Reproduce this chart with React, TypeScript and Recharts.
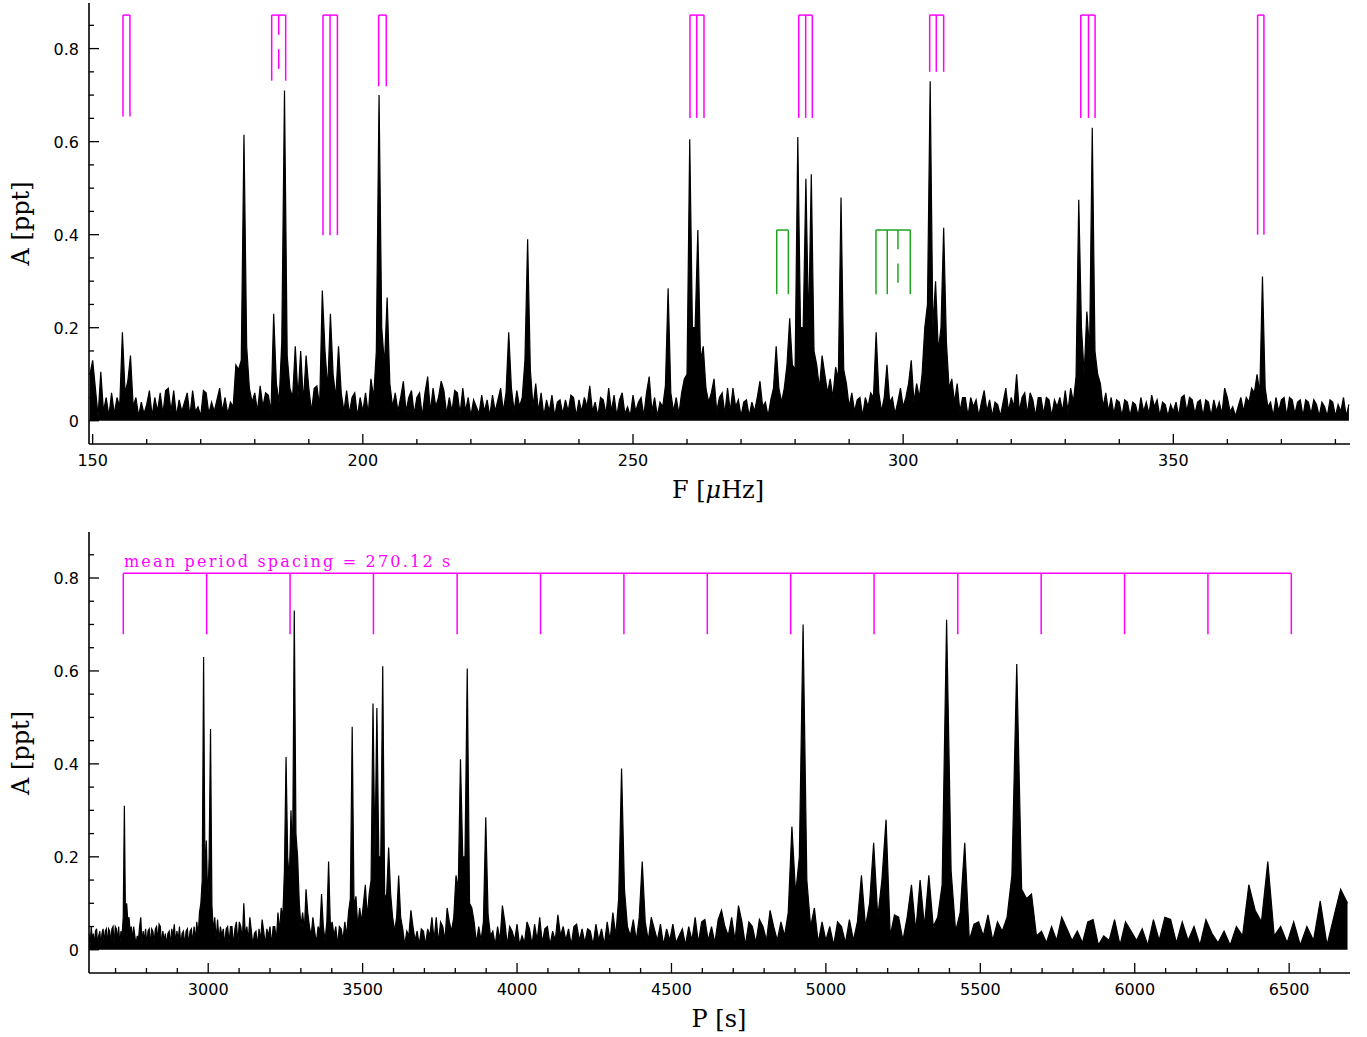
import { ComposedChart, Area, XAxis, YAxis, ReferenceLine } from 'recharts';

// amplitude spectrum, sampled every 0.5 µHz starting at 149.5 µHz (ppt)
const F_START = 149.5;
const F_STEP = 0.5;
const amplitudes = [
  0.10,
  // 150.0
  0.13, 0.07, 0.01, 0.105, 0.02, 0.05, 0.01, 0.06, 0.015, 0.05,
  0.03, 0.19, 0.06, 0.085, 0.14, 0.03, 0.05, 0.01, 0.04, 0.015,
  // 160.0
  0.035, 0.065, 0.01, 0.05, 0.02, 0.06, 0.015, 0.065, 0.07, 0.02,
  0.065, 0.01, 0.045, 0.02, 0.04, 0.06, 0.01, 0.065, 0.02, 0.03,
  // 170.0
  0.01, 0.065, 0.06, 0.015, 0.04, 0.02, 0.045, 0.07, 0.02, 0.05,
  0.015, 0.04, 0.03, 0.12, 0.11, 0.13, 0.615, 0.16, 0.07, 0.04,
  // 180.0
  0.06, 0.02, 0.075, 0.03, 0.06, 0.055, 0.02, 0.23, 0.08, 0.04,
  0.17, 0.71, 0.14, 0.07, 0.05, 0.16, 0.05, 0.15, 0.04, 0.14,
  // 190.0
  0.07, 0.02, 0.07, 0.075, 0.03, 0.28, 0.15, 0.07, 0.23, 0.1,
  0.05, 0.16, 0.06, 0.02, 0.065, 0.015, 0.05, 0.06, 0.01, 0.05,
  // 200.0
  0.02, 0.06, 0.015, 0.09, 0.05, 0.15, 0.70, 0.2, 0.12, 0.265,
  0.08, 0.03, 0.06, 0.02, 0.05, 0.085, 0.02, 0.05, 0.065, 0.015,
  // 210.0
  0.05, 0.06, 0.01, 0.06, 0.095, 0.02, 0.07, 0.03, 0.05, 0.085,
  0.065, 0.015, 0.05, 0.02, 0.065, 0.06, 0.015, 0.07, 0.02, 0.05,
  // 220.0
  0.01, 0.045, 0.03, 0.015, 0.055, 0.02, 0.045, 0.01, 0.055, 0.02,
  0.045, 0.07, 0.02, 0.06, 0.19, 0.07, 0.02, 0.065, 0.03, 0.05,
  // 230.0
  0.13, 0.39, 0.11, 0.03, 0.08, 0.02, 0.06, 0.01, 0.045, 0.02,
  0.055, 0.01, 0.04, 0.045, 0.015, 0.045, 0.02, 0.055, 0.05, 0.01,
  // 240.0
  0.045, 0.02, 0.05, 0.03, 0.075, 0.02, 0.04, 0.01, 0.05, 0.045,
  0.015, 0.07, 0.02, 0.055, 0.01, 0.045, 0.06, 0.015, 0.03, 0.01,
  // 250.0
  0.055, 0.02, 0.04, 0.05, 0.01, 0.06, 0.095, 0.02, 0.05, 0.01,
  0.04, 0.03, 0.075, 0.285, 0.06, 0.02, 0.05, 0.015, 0.06, 0.09,
  // 260.0
  0.1, 0.605, 0.2, 0.2, 0.41, 0.13, 0.16, 0.07, 0.04, 0.06,
  0.09, 0.02, 0.05, 0.06, 0.015, 0.07, 0.02, 0.07, 0.03, 0.045,
  // 270.0
  0.01, 0.04, 0.045, 0.01, 0.04, 0.02, 0.05, 0.085, 0.03, 0.04,
  0.01, 0.045, 0.07, 0.16, 0.07, 0.04, 0.07, 0.12, 0.22, 0.12,
  // 280.0
  0.11, 0.61, 0.2, 0.2, 0.52, 0.2, 0.53, 0.15, 0.12, 0.07,
  0.14, 0.1, 0.06, 0.09, 0.05, 0.115, 0.09, 0.48, 0.11, 0.08,
  // 290.0
  0.03, 0.06, 0.02, 0.045, 0.05, 0.01, 0.05, 0.03, 0.06, 0.05,
  0.19, 0.06, 0.02, 0.05, 0.12, 0.04, 0.05, 0.015, 0.04, 0.07,
  // 300.0
  0.03, 0.05, 0.08, 0.13, 0.04, 0.08, 0.05, 0.1, 0.2, 0.25,
  0.73, 0.2, 0.3, 0.15, 0.2, 0.415, 0.17, 0.07, 0.09, 0.04,
  // 310.0
  0.08, 0.02, 0.05, 0.05, 0.01, 0.05, 0.03, 0.045, 0.01, 0.04,
  0.065, 0.02, 0.045, 0.01, 0.04, 0.035, 0.01, 0.04, 0.07, 0.02,
  // 320.0
  0.05, 0.03, 0.1, 0.02, 0.05, 0.06, 0.015, 0.06, 0.045, 0.01,
  0.05, 0.05, 0.015, 0.05, 0.045, 0.01, 0.045, 0.03, 0.05, 0.02,
  // 330.0
  0.065, 0.02, 0.07, 0.04, 0.095, 0.475, 0.2, 0.1, 0.235, 0.15,
  0.63, 0.15, 0.1, 0.08, 0.03, 0.06, 0.02, 0.05, 0.015, 0.045,
  // 340.0
  0.04, 0.01, 0.045, 0.04, 0.01, 0.04, 0.035, 0.01, 0.05, 0.02,
  0.04, 0.015, 0.055, 0.03, 0.045, 0.01, 0.04, 0.035, 0.01, 0.035,
  // 350.0
  0.02, 0.04, 0.01, 0.05, 0.055, 0.02, 0.05, 0.045, 0.015, 0.04,
  0.045, 0.01, 0.045, 0.04, 0.01, 0.045, 0.02, 0.04, 0.015, 0.07,
  // 360.0
  0.05, 0.02, 0.03, 0.01, 0.03, 0.05, 0.02, 0.05, 0.04, 0.07,
  0.06, 0.1, 0.06, 0.31, 0.07, 0.03, 0.04, 0.01, 0.05, 0.02,
  // 370.0
  0.045, 0.05, 0.01, 0.05, 0.045, 0.015, 0.04, 0.045, 0.01, 0.045,
  0.04, 0.015, 0.045, 0.035, 0.01, 0.04, 0.03, 0.01, 0.045, 0.04,
  // 380.0
  0.01, 0.035, 0.02, 0.05, 0.01, 0.035,
];

const freqTicks = [150, 160, 170, 180, 190, 200, 210, 220, 230, 240, 250, 260, 270, 280, 290, 300, 310, 320, 330, 340, 350, 360, 370, 380];
const periodTicks = [2700, 2800, 2900, 3000, 3100, 3200, 3300, 3400, 3500, 3600, 3700, 3800, 3900, 4000, 4100, 4200, 4300, 4400, 4500, 4600, 4700, 4800, 4900, 5000, 5100, 5200, 5300, 5400, 5500, 5600, 5700, 5800, 5900, 6000, 6100, 6200, 6300, 6400, 6500, 6600];
const ampTicks = [0, 0.05, 0.1, 0.15, 0.2, 0.25, 0.3, 0.35, 0.4, 0.45, 0.5, 0.55, 0.6, 0.65, 0.7, 0.75, 0.8, 0.85];

// rotational multiplets (µHz), magenta l=1, green l=2
const PINK_TOP = 0.872;
const pinkMultiplets = [
  { freqs: [155.61, 156.9], bottom: 0.654, broken: -1 },
  { freqs: [183.13, 184.43, 185.72], bottom: 0.731, broken: 1 },
  { freqs: [192.63, 193.93, 195.29], bottom: 0.399, broken: -1 },
  { freqs: [202.93, 204.34], bottom: 0.719, broken: -1 },
  { freqs: [260.55, 261.79, 263.14], bottom: 0.651, broken: -1 },
  { freqs: [280.67, 281.96, 283.19], bottom: 0.651, broken: -1 },
  { freqs: [304.91, 306.13, 307.5], bottom: 0.75, broken: -1 },
  { freqs: [332.87, 334.3, 335.52], bottom: 0.651, broken: -1 },
  { freqs: [365.6, 366.77], bottom: 0.4, broken: -1 },
];
const GREEN_TOP = 0.41;
const greenMultiplets = [
  { freqs: [276.6, 278.75], bottom: 0.272, broken: -1 },
  { freqs: [294.97, 297.06, 299.04, 301.32], bottom: 0.272, broken: 2 },
];

// period comb, mean spacing 270.12 s
const combPeriods = [2725, 2995, 3265, 3535, 3806, 4076, 4346, 4616, 4886, 5156, 5427, 5697, 5967, 6237, 6507];
const COMB_TOP = 0.81;
const COMB_BOTTOM = 0.679;

const freqs = amplitudes.map((_, i) => F_START + i * F_STEP);
const freqData = amplitudes.map((a, i) => ({ f: freqs[i], a }));
// same spectrum, plotted against period P = 1/F
const periodData = amplitudes.map((a, i) => ({ p: 1e6 / freqs[i], a }));

const MAGENTA = '#ff00ff';
const GREEN = '#1ea41e';
const FRAME = { stroke: '#000', strokeWidth: 1.6 };
const tickFont = { fontFamily: 'DejaVu Sans, sans-serif', fontSize: 16, fill: '#000' };
const serif = 'DejaVu Serif, serif';

const isMajor = (v: number, every: number) => Math.abs(v / every - Math.round(v / every)) < 1e-6;

// ticks point inwards on all four sides, like the original plot frame
function xTick(every: number, side: 'top' | 'bottom') {
  return (props: any) => {
    const { x, y, payload } = props;
    const v = payload.value;
    const major = isMajor(v, every);
    const len = major ? 10 : 5;
    const dir = side === 'bottom' ? -1 : 1;
    return (
      <g>
        <line x1={x} x2={x} y1={y} y2={y + dir * len} stroke="#000" strokeWidth={1.3} />
        {side === 'bottom' && major && (
          <text x={x} y={y + 22} textAnchor="middle" {...tickFont}>{v}</text>
        )}
      </g>
    );
  };
}

function yTick(side: 'left' | 'right') {
  return (props: any) => {
    const { x, y, payload } = props;
    const v = payload.value;
    const major = isMajor(v, 0.2);
    const len = major ? 10 : 5;
    const dir = side === 'left' ? 1 : -1;
    return (
      <g>
        <line x1={x} x2={x + dir * len} y1={y} y2={y} stroke="#000" strokeWidth={1.3} />
        {side === 'left' && major && (
          <text x={x - 10} y={y + 6} textAnchor="end" {...tickFont}>{String(Math.round(v * 10) / 10)}</text>
        )}
      </g>
    );
  };
}

function multipletLines(groups: typeof pinkMultiplets, top: number, color: string, prefix: string) {
  const out: any[] = [];
  groups.forEach((g, gi) => {
    const first = g.freqs[0];
    const last = g.freqs[g.freqs.length - 1];
    out.push(
      <ReferenceLine key={`${prefix}h${gi}`} segment={[{ x: first, y: top }, { x: last, y: top }]} stroke={color} strokeWidth={1.5} />
    );
    g.freqs.forEach((f, fi) => {
      if (fi === g.broken) {
        // uncertain component: short, broken line
        const span = top - g.bottom;
        out.push(
          <ReferenceLine key={`${prefix}a${gi}-${fi}`} segment={[{ x: f, y: top }, { x: f, y: top - span * 0.3 }]} stroke={color} strokeWidth={1.5} />,
          <ReferenceLine key={`${prefix}b${gi}-${fi}`} segment={[{ x: f, y: top - span * 0.52 }, { x: f, y: top - span * 0.82 }]} stroke={color} strokeWidth={1.5} />
        );
      } else {
        out.push(
          <ReferenceLine key={`${prefix}v${gi}-${fi}`} segment={[{ x: f, y: g.bottom }, { x: f, y: top }]} stroke={color} strokeWidth={1.5} />
        );
      }
    });
  });
  return out;
}

function FrequencyPanel() {
  return (
    <ComposedChart width={1367} height={520} data={freqData} margin={{ top: 3, right: 17, bottom: 0, left: 0 }}>
      <XAxis dataKey="f" type="number" domain={[149.32, 382.7]} allowDataOverflow ticks={freqTicks} interval={0}
        height={76} tickSize={0} tickMargin={0} tickLine={false} axisLine={FRAME} tick={xTick(50, 'bottom')} />
      <XAxis xAxisId="top" dataKey="f" orientation="top" type="number" domain={[149.32, 382.7]} allowDataOverflow ticks={freqTicks} interval={0}
        height={0} tickSize={0} tickMargin={0} tickLine={false} axisLine={FRAME} tick={xTick(50, 'top')} />
      <YAxis type="number" domain={[-0.05, 0.898]} allowDataOverflow ticks={ampTicks} interval={0}
        width={89} tickSize={0} tickMargin={0} tickLine={false} axisLine={FRAME} tick={yTick('left')} />
      <YAxis yAxisId="right" orientation="right" type="number" domain={[-0.05, 0.898]} allowDataOverflow ticks={ampTicks} interval={0}
        width={0} tickSize={0} tickMargin={0} tickLine={false} axisLine={FRAME} tick={yTick('right')} />
      <Area dataKey="a" type="linear" baseValue={0} stroke="#000" strokeWidth={1.2} fill="#000" fillOpacity={1}
        dot={false} activeDot={false} isAnimationActive={false} />
      {multipletLines(pinkMultiplets, PINK_TOP, MAGENTA, 'p')}
      {multipletLines(greenMultiplets, GREEN_TOP, GREEN, 'g')}
    </ComposedChart>
  );
}

function PeriodPanel() {
  return (
    <ComposedChart width={1367} height={517} data={periodData} margin={{ top: 12, right: 17, bottom: 0, left: 0 }}>
      <XAxis dataKey="p" type="number" domain={[2614, 6697]} allowDataOverflow ticks={periodTicks} interval={0}
        height={64} tickSize={0} tickMargin={0} tickLine={false} axisLine={FRAME} tick={xTick(500, 'bottom')} />
      <XAxis xAxisId="top" dataKey="p" orientation="top" type="number" domain={[2614, 6697]} allowDataOverflow ticks={periodTicks} interval={0}
        height={0} tickSize={0} tickMargin={0} tickLine={false} axisLine={FRAME} tick={xTick(500, 'top')} />
      <YAxis type="number" domain={[-0.05, 0.899]} allowDataOverflow ticks={ampTicks} interval={0}
        width={89} tickSize={0} tickMargin={0} tickLine={false} axisLine={FRAME} tick={yTick('left')} />
      <YAxis yAxisId="right" orientation="right" type="number" domain={[-0.05, 0.899]} allowDataOverflow ticks={ampTicks} interval={0}
        width={0} tickSize={0} tickMargin={0} tickLine={false} axisLine={FRAME} tick={yTick('right')} />
      <Area dataKey="a" type="linear" baseValue={0} stroke="#000" strokeWidth={1.2} fill="#000" fillOpacity={1}
        dot={false} activeDot={false} isAnimationActive={false} />
      <ReferenceLine segment={[{ x: combPeriods[0], y: COMB_TOP }, { x: combPeriods[combPeriods.length - 1], y: COMB_TOP }]} stroke={MAGENTA} strokeWidth={1.5} />
      {combPeriods.map((p) => (
        <ReferenceLine key={p} segment={[{ x: p, y: COMB_BOTTOM }, { x: p, y: COMB_TOP }]} stroke={MAGENTA} strokeWidth={1.5} />
      ))}
    </ComposedChart>
  );
}

export default function App() {
  return (
    <div style={{ position: 'absolute', left: 0, top: 0, width: 1367, height: 1037, background: '#fff' }}>
      <div style={{ position: 'absolute', left: 0, top: 0 }}>
        <FrequencyPanel />
      </div>
      <div style={{ position: 'absolute', left: 0, top: 520 }}>
        <PeriodPanel />
      </div>
      <svg width={1367} height={1037} style={{ position: 'absolute', left: 0, top: 0, pointerEvents: 'none' }}>
        <text x={28.5} y={223.5} transform="rotate(-90 28.5 223.5)" textAnchor="middle" fontFamily={serif} fontSize={24}>A [ppt]</text>
        <text x={28.5} y={753} transform="rotate(-90 28.5 753)" textAnchor="middle" fontFamily={serif} fontSize={24}>A [ppt]</text>
        <text x={718} y={498} textAnchor="middle" fontFamily={serif} fontSize={24}>
          F [<tspan fontStyle="italic">μ</tspan>Hz]
        </text>
        <text x={719} y={1027} textAnchor="middle" fontFamily={serif} fontSize={24}>P [s]</text>
        <text x={124} y={567} fill={MAGENTA} fontFamily={serif} fontSize={16} letterSpacing={2.2}>mean period spacing = 270.12 s</text>
      </svg>
    </div>
  );
}
